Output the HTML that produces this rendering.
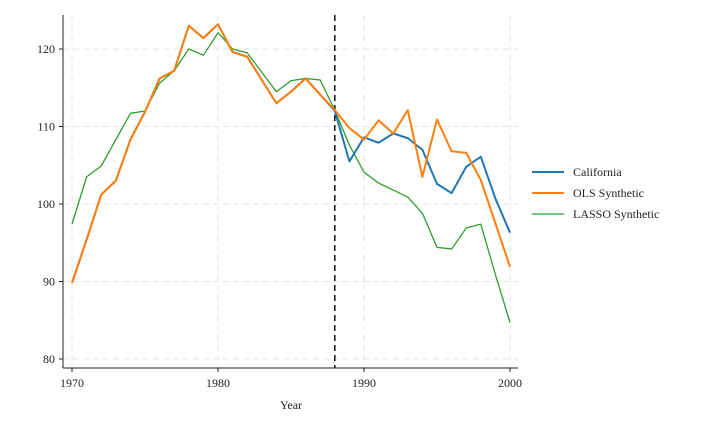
<!DOCTYPE html>
<html><head><meta charset="utf-8"><style>
body{margin:0;background:#fff;}
svg text{font-family:"Liberation Serif",serif;font-size:12px;fill:#222;}
</style></head><body>
<svg id="chart" width="720" height="432" xmlns="http://www.w3.org/2000/svg"></svg>
<script>
const years=[];for(let y=1970;y<=2000;y++)years.push(y);
const california=[89.8,95.4,101.2,103.0,108.3,111.9,116.2,117.2,123.0,121.4,123.2,119.6,119.0,116.0,113.0,114.5,116.2,114.1,112.0,105.5,108.6,107.9,109.1,108.5,107.0,102.6,101.4,104.8,106.1,100.7,96.3];
const olsSynthetic=[89.8,95.4,101.2,103.0,108.3,111.9,116.2,117.2,123.0,121.4,123.2,119.6,119.0,116.0,113.0,114.5,116.2,114.1,112.1,109.8,108.3,110.8,109.1,112.1,103.5,110.9,106.8,106.6,103.1,97.5,91.9];
const lassoSynthetic=[97.4,103.5,104.9,108.3,111.7,112.0,115.6,117.2,120.0,119.2,122.1,120.0,119.5,117.0,114.5,115.9,116.2,116.0,112.1,107.6,104.1,102.7,101.8,100.9,98.8,94.4,94.2,96.9,97.4,90.9,84.7];
const xTicks=[1970,1980,1990,2000];
const yTicks=[80,90,100,110,120];
const treatYear=1988;
const NS="http://www.w3.org/2000/svg";
const svg=document.getElementById('chart');
const X=v=>72+(v-1970)*(438/30);
const Y=v=>49+(120-v)*7.75;
function mk(t,a){const e=document.createElementNS(NS,t);for(const k in a)e.setAttribute(k,a[k]);svg.appendChild(e);return e;}
// grid
yTicks.forEach(t=>{const l=mk('line',{x1:63,x2:518,y1:Y(t),y2:Y(t),stroke:'#e6e6e6','stroke-dasharray':'6,4'});

});
xTicks.forEach(t=>{const l=mk('line',{x1:X(t),x2:X(t),y1:15,y2:368,stroke:'#e6e6e6','stroke-dasharray':'6,4'});

});
// axes
let ax=mk('line',{x1:63,x2:63,y1:15,y2:368,stroke:'#222'});


ax=mk('line',{x1:63,x2:518,y1:368,y2:368,stroke:'#222'});


yTicks.forEach(t=>{mk('line',{x1:59,x2:63,y1:Y(t),y2:Y(t),stroke:'#222'});
const tx=mk('text',{x:55,y:Y(t)+4,'text-anchor':'end'});tx.textContent=t;

});
xTicks.forEach(t=>{mk('line',{x1:X(t),x2:X(t),y1:368,y2:372,stroke:'#222'});
const tx=mk('text',{x:X(t),y:387,'text-anchor':'middle'});tx.textContent=t;

});
const xt=mk('text',{x:291,y:409,'text-anchor':'middle'});xt.textContent='Year';


// treatment line
const tl=mk('line',{x1:X(treatYear),x2:X(treatYear),y1:15,y2:368,stroke:'#111','stroke-width':1.5,'stroke-dasharray':'6,4'});


function series(vals,color,w,name){const p=mk('polyline',{points:vals.map((v,i)=>X(years[i])+','+Y(v)).join(' '),fill:'none',stroke:color,'stroke-width':w,'stroke-linejoin':'round'});

}
series(lassoSynthetic,'#2ca02c',1.3,'lasso-synthetic-line');
series(california,'#1f77b4',2,'california-line');
series(olsSynthetic,'#ff7f0e',2,'ols-synthetic-line');
// legend
const leg=[['California','#1f77b4',2],['OLS Synthetic','#ff7f0e',2],['LASSO Synthetic','#2ca02c',1.3]];
leg.forEach((l,i)=>{const y=172+i*21;
const ln=mk('line',{x1:532,x2:564,y1:y,y2:y,stroke:l[1],'stroke-width':l[2]});


const t=mk('text',{x:573,y:y+4});t.textContent=l[0];

});
</script>
</body></html>
